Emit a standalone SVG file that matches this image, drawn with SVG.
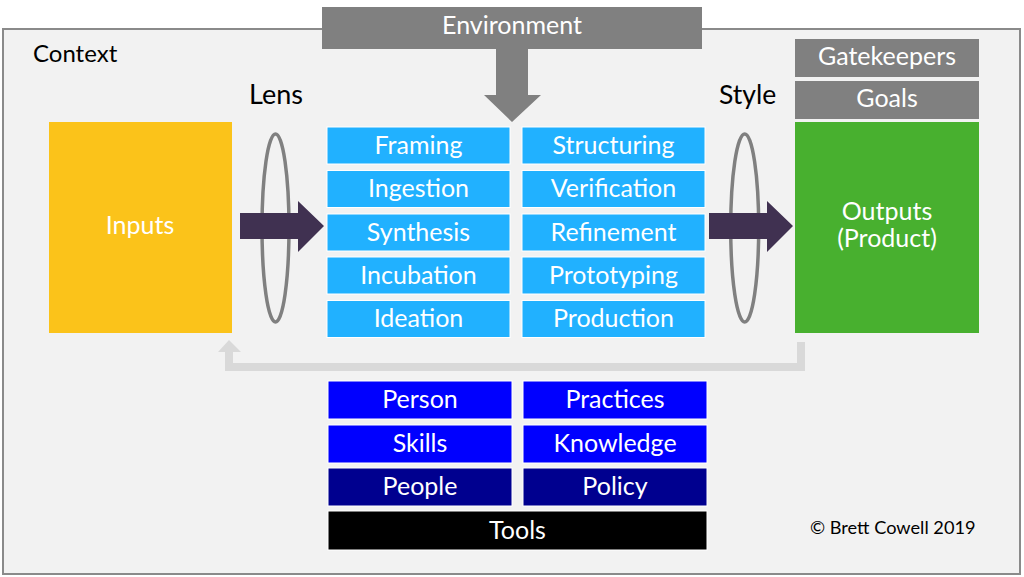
<svg xmlns="http://www.w3.org/2000/svg" width="1024" height="577" viewBox="0 0 1024 577">
<style>
.lbl{font-family:Lato,"Open Sans",sans-serif;font-size:25px;fill:#fff;text-anchor:middle}
.blk{font-family:Lato,"Open Sans",sans-serif;fill:#000}
.lb{fill:#21b1ff;stroke:#ffffff;stroke-width:1}
.bb{fill:#0000ff;stroke:#ffffff;stroke-width:1}
.nb{fill:#00008f;stroke:#ffffff;stroke-width:1}
.gr{fill:#808080}
.lens{fill:none;stroke:#808080;stroke-width:3.5}
.arr{fill:#403151}
</style>
<rect x="0" y="0" width="1024" height="577" fill="#ffffff"/>
<g id="context">
<rect x="3" y="29" width="1017" height="545" fill="#f2f2f2" stroke="#8a8a8a" stroke-width="2"/>
<text class="blk" x="33" y="62" font-size="24">Context</text>
</g>
<g id="environment">
<rect class="gr" x="322" y="7" width="380" height="42"/>
<text class="lbl" x="512" y="34" fill="#f2f2f2">Environment</text>
<polygon class="gr" points="496,48 528,48 528,95 541,95 512,122 484,95 496,95"/>
</g>
<g id="lens">
<text class="blk" x="249" y="104" font-size="27">Lens</text>
<ellipse class="lens" cx="275.5" cy="228" rx="13.5" ry="94"/>
</g>
<g id="style">
<text class="blk" x="719" y="104" font-size="26.5">Style</text>
<ellipse class="lens" cx="744.7" cy="228" rx="14" ry="94"/>
</g>
<g id="inputs">
<rect x="49" y="122" width="183" height="211" fill="#fbc31a"/>
<text class="lbl" x="140" y="234">Inputs</text>
</g>
<g id="outputs">
<rect x="795" y="122" width="184" height="211" fill="#48b02f"/>
<text class="lbl" x="887" y="220">Outputs<tspan x="887" y="247">(Product)</tspan></text>
</g>
<g id="gatekeepers">
<rect class="gr" x="795" y="39" width="184" height="38"/>
<text class="lbl" x="887" y="65">Gatekeepers</text>
</g>
<g id="goals">
<rect class="gr" x="795" y="81" width="184" height="38"/>
<text class="lbl" x="887" y="107">Goals</text>
</g>
<g id="framing"><rect class="lb" x="327" y="127" width="183" height="37"/><text class="lbl" x="418.5" y="153.5">Framing</text></g>
<g id="ingestion"><rect class="lb" x="327" y="170.5" width="183" height="37"/><text class="lbl" x="418.5" y="197">Ingestion</text></g>
<g id="synthesis"><rect class="lb" x="327" y="214" width="183" height="37"/><text class="lbl" x="418.5" y="240.5">Synthesis</text></g>
<g id="incubation"><rect class="lb" x="327" y="257" width="183" height="37"/><text class="lbl" x="418.5" y="283.5">Incubation</text></g>
<g id="ideation"><rect class="lb" x="327" y="300.5" width="183" height="37"/><text class="lbl" x="418.5" y="327">Ideation</text></g>
<g id="structuring"><rect class="lb" x="522" y="127" width="183" height="37"/><text class="lbl" x="613.5" y="153.5">Structuring</text></g>
<g id="verification"><rect class="lb" x="522" y="170.5" width="183" height="37"/><text class="lbl" x="613.5" y="197">Verification</text></g>
<g id="refinement"><rect class="lb" x="522" y="214" width="183" height="37"/><text class="lbl" x="613.5" y="240.5">Refinement</text></g>
<g id="prototyping"><rect class="lb" x="522" y="257" width="183" height="37"/><text class="lbl" x="613.5" y="283.5">Prototyping</text></g>
<g id="production"><rect class="lb" x="522" y="300.5" width="183" height="37"/><text class="lbl" x="613.5" y="327">Production</text></g>
<g id="person"><rect class="bb" x="328" y="381" width="184" height="38"/><text class="lbl" x="420" y="407.5">Person</text></g>
<g id="practices"><rect class="bb" x="523" y="381" width="184" height="38"/><text class="lbl" x="615" y="407.5">Practices</text></g>
<g id="skills"><rect class="bb" x="328" y="425" width="184" height="38"/><text class="lbl" x="420" y="451.5">Skills</text></g>
<g id="knowledge"><rect class="bb" x="523" y="425" width="184" height="38"/><text class="lbl" x="615" y="451.5">Knowledge</text></g>
<g id="people"><rect class="nb" x="328" y="468" width="184" height="38"/><text class="lbl" x="420" y="494.5">People</text></g>
<g id="policy"><rect class="nb" x="523" y="468" width="184" height="38"/><text class="lbl" x="615" y="494.5">Policy</text></g>
<g id="tools"><rect x="328" y="511" width="379" height="39" fill="#000" stroke="#fff" stroke-width="1"/><text class="lbl" x="517.5" y="538.5">Tools</text></g>
<g id="connectors">
<polygon class="arr" points="240,213 298,213 298,201 324,226 298,252 298,239 240,239"/>
<polygon class="arr" points="709,213 767,213 767,201 793,226 767,252 767,239 709,239"/>
<path d="M801 342 V367 H229 V352" fill="none" stroke="#d9d9d9" stroke-width="8"/>
<polygon points="218,352 229,340 241,352" fill="#d9d9d9"/>
</g>
<text x="810" y="534" font-family="Lato,'Open Sans',sans-serif" font-size="18.2" fill="#000">© Brett Cowell 2019</text>
</svg>
